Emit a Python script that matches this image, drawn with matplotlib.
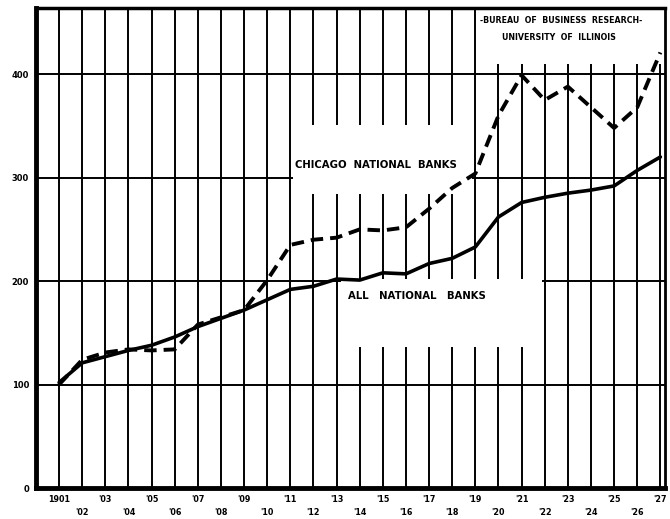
import matplotlib
matplotlib.use("Agg")
import matplotlib.pyplot as plt
from matplotlib.patches import Rectangle

# ---------- DATA (1901 = 100) ----------
years = list(range(1901, 1928))
all_national = [102, 121, 127, 133, 138, 146, 156, 164, 172, 182, 192, 195, 202,
                201, 208, 207, 217, 222, 233, 262, 276, 281, 285, 288, 292, 307, 320]
chicago = [100, 124, 131, 134, 133, 134, 158, 165, 172, 201, 235, 240, 242,
           250, 249, 252, 270, 290, 304, 360, 399, 375, 388, 368, 348, 368, 421]
y_ticks = [0, 100, 200, 300, 400]
x_labels = ["1901" if y == 1901 else "'%02d" % (y % 100) for y in years]

plt.rcParams["font.family"] = "DejaVu Sans"

fig = plt.figure(figsize=(6.7, 5.19), dpi=100)
ax = fig.add_axes([0.0537, 0.0597, 0.9388, 0.9249])
ax.set_xlim(1900, 1927.2)
ax.set_ylim(0, 464)

# grid - every year, every 100
for y in years:
    ax.axvline(y, color="black", lw=1.4, zorder=1)
for v in y_ticks[1:]:
    ax.axhline(v, color="black", lw=1.4, zorder=1)

# white patches behind the labels (grid is broken there in the original)
ax.add_patch(Rectangle((1911.12, 284), 7.75, 67, facecolor="white", edgecolor="none", zorder=2))
ax.add_patch(Rectangle((1913.2, 136), 8.7, 66, facecolor="white", edgecolor="none", zorder=2))
ax.add_patch(Rectangle((1919.15, 410), 8.2, 60, facecolor="white", edgecolor="none", zorder=2))

ax.plot(years, all_national, color="black", lw=2.6, solid_capstyle="round", zorder=4)
ax.plot(years, chicago, color="black", lw=2.8, dashes=(3.2, 1.8), zorder=4)

lbl = dict(fontsize=7.3, fontweight="heavy", color="black", zorder=5)
ax.text(1911.22, 312, "CHICAGO  NATIONAL  BANKS", ha="left", va="center", **lbl)
ax.text(1913.5, 186, "ALL   NATIONAL   BANKS", ha="left", va="center", **lbl)
ax.text(1919.2, 452, "-BUREAU  OF  BUSINESS  RESEARCH-", ha="left", va="center",
        fontsize=5.7, fontweight="heavy", zorder=5)
ax.text(1920.15, 435, "UNIVERSITY  OF  ILLINOIS", ha="left", va="center",
        fontsize=5.7, fontweight="heavy", zorder=5)

# axes frame, heavier on left and bottom like the drawing
ax.spines["left"].set_linewidth(3.5)
ax.spines["bottom"].set_linewidth(3.5)
ax.spines["top"].set_linewidth(2.5)
ax.spines["right"].set_linewidth(2.0)
for s in ax.spines.values():
    s.set_zorder(6)

ax.set_yticks(y_ticks)
ax.set_yticklabels([str(v) for v in y_ticks], fontsize=6, fontweight="heavy")
ax.set_xticks(years)
ax.set_xticklabels([lab if i % 2 == 0 else "\n" + lab for i, lab in enumerate(x_labels)],
                   fontsize=5.8, fontweight="heavy", linespacing=1.6)
ax.tick_params(length=0, pad=5)

fig.savefig("out.png", dpi=100)
